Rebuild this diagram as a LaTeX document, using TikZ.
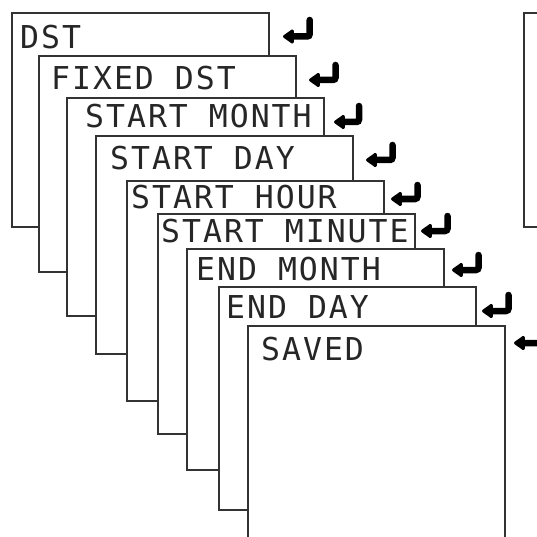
\documentclass[tikz,border=0pt]{standalone}
\usepackage{fontspec}
\newfontfamily\lcdfont[LetterSpace=6.3]{DejaVu Sans Mono}
\usetikzlibrary{arrows.meta}
\tikzset{
  screen/.style={draw=black!80, line width=1.1pt, fill=white, rectangle, inner sep=0pt, outer sep=0pt, anchor=north west, minimum width=257pt},
  lcd/.style={font=\lcdfont\fontsize{31.5}{31.5}\selectfont, text=black!85, inner sep=0pt, anchor=base west},
  enterarrow/.style={line width=6.5pt, line cap=round, rounded corners=2.5pt, -{Triangle[length=12pt,width=16pt,round]}},
}
\begin{document}
\begin{tikzpicture}[x=1pt,y=-1pt]
\useasboundingbox (0,0) rectangle (537,537);
\clip (0,0) rectangle (537,537);
% screens
\node[screen, minimum height=214pt] (b1) at (12,13) {};
\node[screen, minimum height=216pt] (b2) at (39,56) {};
\node[screen, minimum height=218pt] (b3) at (67,98) {};
\node[screen, minimum height=218pt] (b4) at (96,136) {};
\node[screen, minimum height=220pt] (b5) at (127,181) {};
\node[screen, minimum height=220pt] (b6) at (158,214) {};
\node[screen, minimum height=221pt] (b7) at (187,249) {};
\node[screen, minimum height=223pt] (b8) at (219,287) {};
\node[screen, minimum height=230pt] (b9) at (248,326) {};
\node[screen, minimum height=214pt] (b10) at (524,13) {};
% texts
\node[lcd] (t1) at (20,49) {DST};
\node[lcd] (t2) at (51,90) {FIXED DST};
\node[lcd] (t3) at (85,128) {START MONTH};
\node[lcd] (t4) at (110,170) {START DAY};
\node[lcd] (t5) at (131,208) {START HOUR};
\node[lcd] (t6) at (161,242) {START MINUTE};
\node[lcd] (t7) at (196,280) {END MONTH};
\node[lcd] (t8) at (226,318) {END DAY};
\node[lcd] (t9) at (261,360) {SAVED};
% enter arrows
\coordinate (a1s) at (309.7,20);  \coordinate (a1t) at (283,36.5);
\coordinate (a2s) at (335.5,65);  \coordinate (a2t) at (309,80);
\coordinate (a3s) at (359,106);   \coordinate (a3t) at (334,122);
\coordinate (a4s) at (392.5,145); \coordinate (a4t) at (366,160);
\coordinate (a5s) at (417.5,185); \coordinate (a5t) at (391,199);
\coordinate (a6s) at (447.5,216); \coordinate (a6t) at (421,231);
\coordinate (a7s) at (478.5,255); \coordinate (a7t) at (452,270);
\coordinate (a8s) at (508.5,295); \coordinate (a8t) at (482,311);
\coordinate (a9s) at (541,328);   \coordinate (a9t) at (514,343);
\foreach \i in {1,...,9} {
  \draw[enterarrow] (a\i s) |- (a\i t);
}
\end{tikzpicture}
\end{document}
